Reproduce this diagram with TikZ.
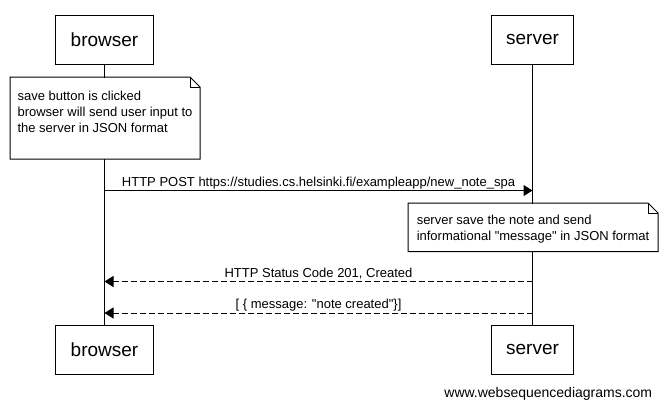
\documentclass[tikz,border=0pt]{standalone}
\usepackage{fontspec}
\setmainfont{Liberation Sans}[Ligatures=TeXOff]
\usetikzlibrary{arrows.meta}
\newcommand\dogear[1]{%
  \draw (#1.south west) -- (#1.north west) -- ([xshift=-10pt]#1.north east)
    -- ([yshift=-10pt]#1.north east) -- (#1.south east) -- cycle;
  \draw ([xshift=-10pt]#1.north east) |- ([yshift=-10pt]#1.north east);}
\begin{document}
\begin{tikzpicture}[x=1pt,y=-1pt,line width=1pt,
    actor/.style={draw,minimum height=49pt,inner xsep=15pt,font=\fontsize{19}{23}\selectfont},
    notebox/.style={anchor=north west,fill=white,inner xsep=5.5pt,align=left,font=\fontsize{13}{16}\selectfont},
    msg/.style={-{Triangle[length=9pt,width=11pt]}},
    reply/.style={msg,dash pattern=on 6pt off 3pt},
    lbl/.style={midway,anchor=base,yshift=4.5pt,font=\fontsize{13}{16}\selectfont}]
    \useasboundingbox (0,0) rectangle (666,408);
    \node[actor] (btop) at (104.5,39.5) {browser};
    \node[actor] (stop) at (532.5,39.5) {server};
    \node[actor] (bbot) at (104.5,349.5) {browser};
    \node[actor] (sbot) at (532.5,349.5) {server};
    \draw (btop) -- (bbot);
    \draw (stop) -- (sbot);
    \node[notebox,minimum width=189pt,inner ysep=10pt] (save) at (10,77)
        {\rule{0pt}{13pt}save button is clicked\\browser will send user input to\\the server in JSON format\\\mbox{}};
    \dogear{save}
    \node[notebox,minimum width=249pt,inner ysep=8pt] (reply) at (408,203)
        {\rule{0pt}{13pt}server save the note and send\\informational "message" in JSON format};
    \dogear{reply}
    \path (104.5,190.5) coordinate (b1) (532.5,190.5) coordinate (s1);
    \path (104.5,281.5) coordinate (b2) (532.5,281.5) coordinate (s2);
    \path (104.5,313) coordinate (b3) (532.5,313) coordinate (s3);
    \draw[msg] (b1) -- (s1) node[lbl] {HTTP POST https://studies.cs.helsinki.fi/exampleapp/new\_note\_spa};
    \draw[reply] (s2) -- (b2) node[lbl] {HTTP Status Code 201, Created};
    \draw[reply] (s3) -- (b3) node[lbl] {[ \{ message: "note created"\}]};
    \node[anchor=base east,font=\fontsize{14}{17}\selectfont] (credit) at (656,397) {www.websequencediagrams.com};
\end{tikzpicture}
\end{document}
